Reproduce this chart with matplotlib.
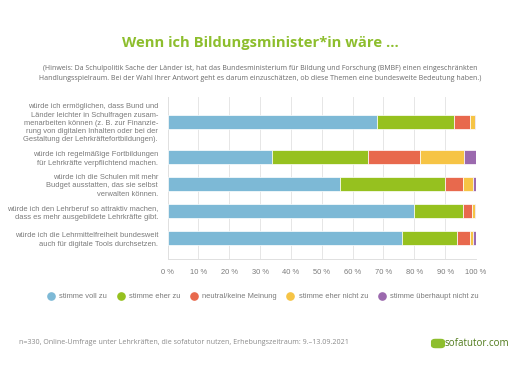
import numpy as np
import matplotlib
matplotlib.use("Agg")
import matplotlib.pyplot as plt
from matplotlib.lines import Line2D
from matplotlib.patches import FancyBboxPatch

# Daten (in %)
aussagen = [
    "würde ich ermöglichen, dass Bund und\nLänder leichter in Schulfragen zusam-\nmenarbeiten können (z. B. zur Finanzie-\nrung von digitalen Inhalten oder bei der\nGestaltung der Lehrkräftefortbildungen).",
    "würde ich regelmäßige Fortbildungen\nfür Lehrkräfte verpflichtend machen.",
    "würde ich die Schulen mit mehr\nBudget ausstatten, das sie selbst\nverwalten können.",
    "würde ich den Lehrberuf so attraktiv machen,\ndass es mehr ausgebildete Lehrkräfte gibt.",
    "würde ich die Lehrmittelfreiheit bundesweit\nauch für digitale Tools durchsetzen.",
]
voll_zu = [68.0, 34.0, 56.0, 79.8, 76.0]
eher_zu = [25.0, 31.0, 34.0, 15.9, 18.0]
neutral = [5.0, 17.0, 5.8, 3.1, 3.9]
eher_nicht_zu = [1.6, 14.0, 3.2, 1.0, 1.1]
ueberhaupt_nicht_zu = [0.4, 4.0, 1.0, 0.2, 1.0]

antworten = ["stimme voll zu", "stimme eher zu", "neutral/keine Meinung",
             "stimme eher nicht zu", "stimme überhaupt nicht zu"]
farben = ["#7db9d6", "#96c11f", "#e8694d", "#f6c445", "#9b69ae"]
ticks = np.arange(0, 101, 10)
tick_labels = [f"{t} %" for t in ticks]

grau = "#7a7a7a"
gruen = "#8dbe2d"

fig = plt.figure(figsize=(5.2, 3.68), dpi=100)
fig.patch.set_facecolor("white")

ax = fig.add_axes([167.5 / 520, 1 - 259 / 368, (476 - 167.5) / 520, (259 - 97) / 368])

# erste Zeile hat mehr Platz wegen des langen Textes
pos = np.arange(len(aussagen)) + (np.arange(len(aussagen)) > 0) * 0.32

links = np.zeros(len(aussagen))
for werte, farbe in zip([voll_zu, eher_zu, neutral, eher_nicht_zu, ueberhaupt_nicht_zu], farben):
    ax.barh(pos, werte, left=links, height=0.52, color=farbe,
            edgecolor="white", linewidth=0.5, zorder=3)
    links += np.array(werte)

ax.set_xlim(0, 100)
ax.set_ylim(pos[-1] + 0.765, -0.915)
ax.set_yticks(pos)
ax.set_yticklabels(aussagen, fontsize=5.4, color=grau, family="Liberation Sans",
                   linespacing=1.25)
ax.set_xticks(ticks)
ax.set_xticklabels(tick_labels, fontsize=5.4, color=grau, family="Liberation Sans")
ax.tick_params(axis="y", length=0, pad=6.8)
ax.tick_params(axis="x", length=0, pad=7)
ax.grid(axis="x", color="#e6e6e6", linewidth=0.7, zorder=0)
for s in ["top", "right"]:
    ax.spines[s].set_visible(False)
for s in ["left", "bottom"]:
    ax.spines[s].set_color("#e0e0e0")
    ax.spines[s].set_linewidth(0.7)

# Titel und Hinweis
fig.text(0.5, 1 - 43 / 368, "Wenn ich Bildungsminister*in wäre ...", ha="center", va="center",
         fontsize=10.6, fontweight="bold", color=gruen, family="Open Sans")
fig.text(0.5, 1 - 73.5 / 368,
         "(Hinweis: Da Schulpolitik Sache der Länder ist, hat das Bundesministerium für Bildung und Forschung (BMBF) einen eingeschränkten\n"
         "Handlungsspielraum. Bei der Wahl Ihrer Antwort geht es darum einzuschätzen, ob diese Themen eine bundesweite Bedeutung haben.)",
         ha="center", va="center", fontsize=5.0, color="#6a6a6a", family="Open Sans", linespacing=1.45)

# Legende
handles = [Line2D([0], [0], marker="o", linestyle="none", markersize=5.2,
                  markerfacecolor=f, markeredgecolor=f) for f in farben]
leg = fig.legend(handles, antworten, loc="center", bbox_to_anchor=(0.505, 1 - 296.5 / 368),
                 ncol=5, frameon=False, handletextpad=0.5, handlelength=1.2,
                 columnspacing=1.2, prop={"family": "Liberation Sans", "size": 5.4})
for t in leg.get_texts():
    t.set_color(grau)

# Fußzeile
fig.text(19 / 520, 1 - 343 / 368,
         "n=330, Online-Umfrage unter Lehrkräften, die sofatutor nutzen, Erhebungszeitraum: 9.–13.09.2021",
         ha="left", va="center", fontsize=5.15, color="#8a8a8a", family="Open Sans")
fig.patches.append(FancyBboxPatch((432 / 520, 1 - 347.5 / 368), 12 / 520, 8 / 368,
                                  boxstyle="round,pad=0.002,rounding_size=0.008",
                                  transform=fig.transFigure, facecolor="#8dbe2d",
                                  edgecolor="none"))
fig.text(444.5 / 520, 1 - 343 / 368, "sofatutor.com", ha="left", va="center",
         fontsize=7.0, color="#4f7a1a", family="Open Sans")

fig.savefig("out.png", dpi=100)
